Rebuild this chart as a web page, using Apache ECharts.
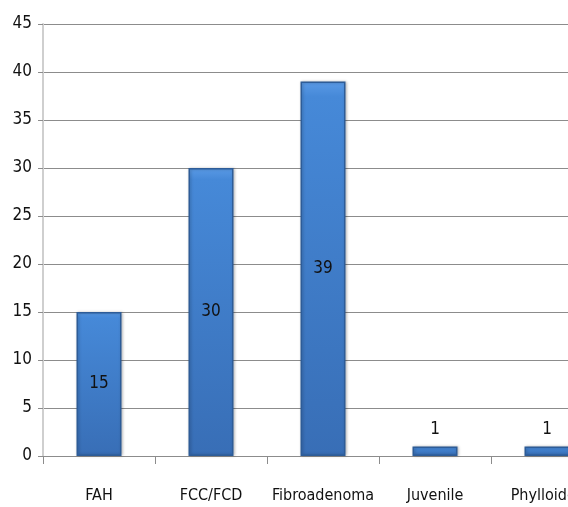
<!DOCTYPE html>
<html>
<head>
<meta charset="utf-8">
<script src="https://cdn.jsdelivr.net/npm/echarts@6/dist/echarts.min.js"></script>
<style>
  html, body { margin: 0; padding: 0; background: #fff; overflow: hidden; }
  /* canvas runs past the right edge of the window; the last category is cut off */
  #chart { width: 620px; height: 507px; }
</style>
</head>
<body>
<div id="chart"></div>
<script>
// Benign breast lesion counts by type
const categories = ['FAH', 'FCC/FCD', 'Fibroadenoma', 'Juvenile', 'Phylloides'];
const counts = [15, 30, 39, 1, 1];
const yTicks = { min: 0, max: 45, interval: 5 };

const FONT = '"Liberation Sans Narrow", "DejaVu Sans Condensed", sans-serif';

// bars: lighter near the top, darker toward the base
const barFill = new echarts.graphic.LinearGradient(0, 0, 0, 1, [
  { offset: 0, color: '#5a9ae6' },
  { offset: 0.04, color: '#4689d8' },
  { offset: 1, color: '#386eb6' }
]);

const chart = echarts.init(document.getElementById('chart'), null, { renderer: 'canvas' });
chart.setOption({
  animation: false,
  grid: { left: 43, top: 24, right: 17, bottom: 51, containLabel: false },
  xAxis: {
    type: 'category',
    data: categories,
    axisLine: { lineStyle: { color: '#8c8c8c', width: 1 } },
    axisTick: { show: true, interval: 0, length: 8, lineStyle: { color: '#8c8c8c' } },
    axisLabel: { interval: 0, color: '#111', fontFamily: FONT, fontSize: 16, margin: 32 }
  },
  yAxis: {
    type: 'value',
    min: yTicks.min,
    max: yTicks.max,
    interval: yTicks.interval,
    axisLine: { show: true, lineStyle: { color: '#cfcfcf', width: 2 } },
    axisTick: { show: true, length: 5, lineStyle: { color: '#8c8c8c' } },
    splitLine: { lineStyle: { color: '#8c8c8c', width: 1 } },
    axisLabel: { color: '#111', fontFamily: FONT, fontSize: 17, margin: 11 }
  },
  series: [{
    type: 'bar',
    barWidth: 45,
    data: counts.map(v => ({
      value: v,
      label: { position: v >= 5 ? 'inside' : 'top', distance: 8 }
    })),
    itemStyle: {
      color: barFill,
      borderColor: '#2d5c98',
      borderWidth: 1.5,
      shadowBlur: 3,
      shadowOffsetX: 1,
      shadowColor: 'rgba(0,0,0,0.25)'
    },
    label: {
      show: true,
      color: '#111',
      fontFamily: FONT,
      fontSize: 17
    }
  }]
});
</script>
</body>
</html>
